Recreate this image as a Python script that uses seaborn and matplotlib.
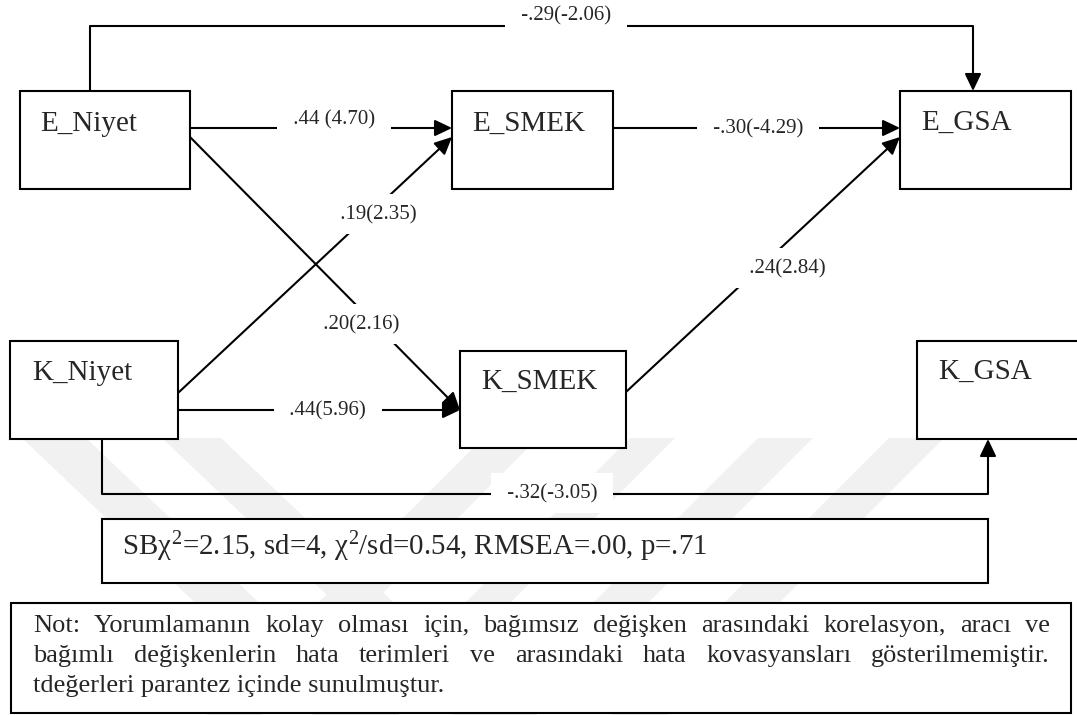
import numpy as np
import pandas as pd
import matplotlib.pyplot as plt
import seaborn as sns
from matplotlib.patches import Rectangle, FancyArrowPatch, Polygon

# ---- model content ----
nodes = ["E_Niyet", "E_SMEK", "E_GSA", "K_Niyet", "K_SMEK", "K_GSA"]
path_from = ["E_Niyet", "E_SMEK", "K_Niyet", "E_Niyet", "K_SMEK", "K_Niyet", "E_Niyet", "K_Niyet"]
path_to = ["E_SMEK", "E_GSA", "E_SMEK", "K_SMEK", "E_GSA", "K_SMEK", "E_GSA", "K_GSA"]
path_labels = [".44 (4.70)", "-.30(-4.29)", ".19(2.35)", ".20(2.16)",
               ".24(2.84)", ".44(5.96)", "-.29(-2.06)", "-.32(-3.05)"]
fit_text = r"SB$\chi^{\mathrm{2}}$=2.15, sd=4, $\chi^{\mathrm{2}}$/sd=0.54, RMSEA=.00, p=.71"
note_lines = [
    "Not: Yorumlamanın kolay olması için, bağımsız değişken arasındaki korelasyon, aracı ve",
    "bağımlı değişkenlerin hata terimleri ve arasındaki hata kovasyansları gösterilmemiştir.",
    "tdeğerleri parantez içinde sunulmuştur.",
]

# ---- layout (pixel coords, y down) ----
boxes = {
    "E_Niyet": (20, 91, 190, 189),
    "E_SMEK": (452, 91, 613, 189),
    "E_GSA": (900, 91, 1071, 189),
    "K_Niyet": (10, 341, 178, 439),
    "K_SMEK": (460, 351, 626, 448),
    "K_GSA": (917, 341, 1090, 439),
}
node_text = {
    "E_Niyet": (40, 131), "E_SMEK": (472, 131), "E_GSA": (921, 130),
    "K_Niyet": (32, 380), "K_SMEK": (481, 389), "K_GSA": (938, 379),
}
path_pts = [
    [(190, 128), (452, 128)],
    [(613, 128), (900, 128)],
    [(178, 393), (452, 137)],
    [(190, 137), (460, 410)],
    [(626, 392), (900, 137)],
    [(178, 410), (460, 410)],
    [(90, 91), (90, 26), (973, 26), (973, 91)],
    [(102, 439), (102, 494), (988, 494), (988, 439)],
]
label_pos = [(334, 124), (758, 133), (378, 219), (361, 329),
             (787, 273), (328, 415), (566, 20), (552, 498)]

# background watermark bands (top x-range at y=438, slope dx/dy)
bands = [((22, 86), 1.05), ((162, 221), 1.05),
         ((483, 538), -1.0), ((630, 675), -1.0), ((758, 813), -1.0), ((889, 944), -1.0)]

sns.set_style("white")
plt.rcParams["font.family"] = ["Liberation Serif", "DejaVu Serif"]
plt.rcParams["mathtext.fontset"] = "custom"
plt.rcParams["mathtext.rm"] = "Liberation Serif"
plt.rcParams["mathtext.it"] = "Liberation Serif"

W, H = 1077, 715
fig = plt.figure(figsize=(W / 100, H / 100), dpi=100)
ax = fig.add_axes([0, 0, 1, 1])

# watermark
for (xa, xb), s in bands:
    y0, y1 = 438, 715
    poly = [(xa, y0), (xb, y0), (xb + s * (y1 - y0), y1), (xa + s * (y1 - y0), y1)]
    ax.add_patch(Polygon(poly, closed=True, fc="#f1f1f1", ec="none", zorder=0))

# connector lines via seaborn
rows = []
for i, pts in enumerate(path_pts):
    pts = np.array(pts, dtype=float)
    d = pts[-1] - pts[-2]
    d = d / np.hypot(*d)
    pts[-1] = pts[-1] - d * 10
    for j, (x, y) in enumerate(pts):
        rows.append({"path": f"{path_from[i]}->{path_to[i]}", "order": j, "x": x, "y": y})
df = pd.DataFrame(rows)
sns.lineplot(data=df, x="x", y="y", units="path", estimator=None, sort=False,
             color="black", linewidth=1.5, legend=False, ax=ax, zorder=2)

# arrow heads
for pts in path_pts:
    tip = np.array(pts[-1], dtype=float)
    d = tip - np.array(pts[-2], dtype=float)
    d = d / np.hypot(*d)
    ax.add_patch(FancyArrowPatch(tuple(tip - d * 16), tuple(tip),
                                 arrowstyle="-|>,head_length=1.05,head_width=0.5",
                                 mutation_scale=10, color="black", lw=1.5,
                                 shrinkA=0, shrinkB=0, zorder=3))

# boxes
for name in nodes:
    x0, y0, x1, y1 = boxes[name]
    ax.add_patch(Rectangle((x0, y0), x1 - x0, y1 - y0, fc="white", ec="black", lw=1.5, zorder=3))
    tx, ty = node_text[name]
    ax.text(tx, ty, name, fontsize=21, ha="left", va="baseline", zorder=4)

# path coefficient labels
for lab, (lx, ly) in zip(path_labels, label_pos):
    ax.text(lx, ly, " " + lab + " ", fontsize=15, ha="center", va="baseline", zorder=4,
            bbox=dict(boxstyle="square,pad=0.5", fc="white", ec="none"))

# fit statistics
ax.add_patch(Rectangle((102, 519), 886, 64, fc="white", ec="black", lw=1.5, zorder=3))
ax.text(122, 555, fit_text, fontsize=20.8, ha="left", va="baseline", zorder=4)

# note box with justified text
ax.add_patch(Rectangle((11, 603), 1060, 110, fc="white", ec="black", lw=1.5, zorder=3))
renderer = fig.canvas.get_renderer()
xl, xr = 33, 1050
base_y = [632, 662, 692]
for k, line in enumerate(note_lines):
    if k < len(note_lines) - 1:
        words = line.split()
        ts = [ax.text(0, base_y[k], w, fontsize=19, ha="left", va="baseline", zorder=4) for w in words]
        widths = [t.get_window_extent(renderer).width for t in ts]
        gap = (xr - xl - sum(widths)) / (len(words) - 1)
        x = xl
        for t, w in zip(ts, widths):
            t.set_x(x)
            x += w + gap
    else:
        ax.text(xl, base_y[k], line, fontsize=19, ha="left", va="baseline", zorder=4)

ax.set_xlim(0, W)
ax.set_ylim(H, 0)
ax.axis("off")

fig.savefig("out.png", dpi=100, facecolor="white")
